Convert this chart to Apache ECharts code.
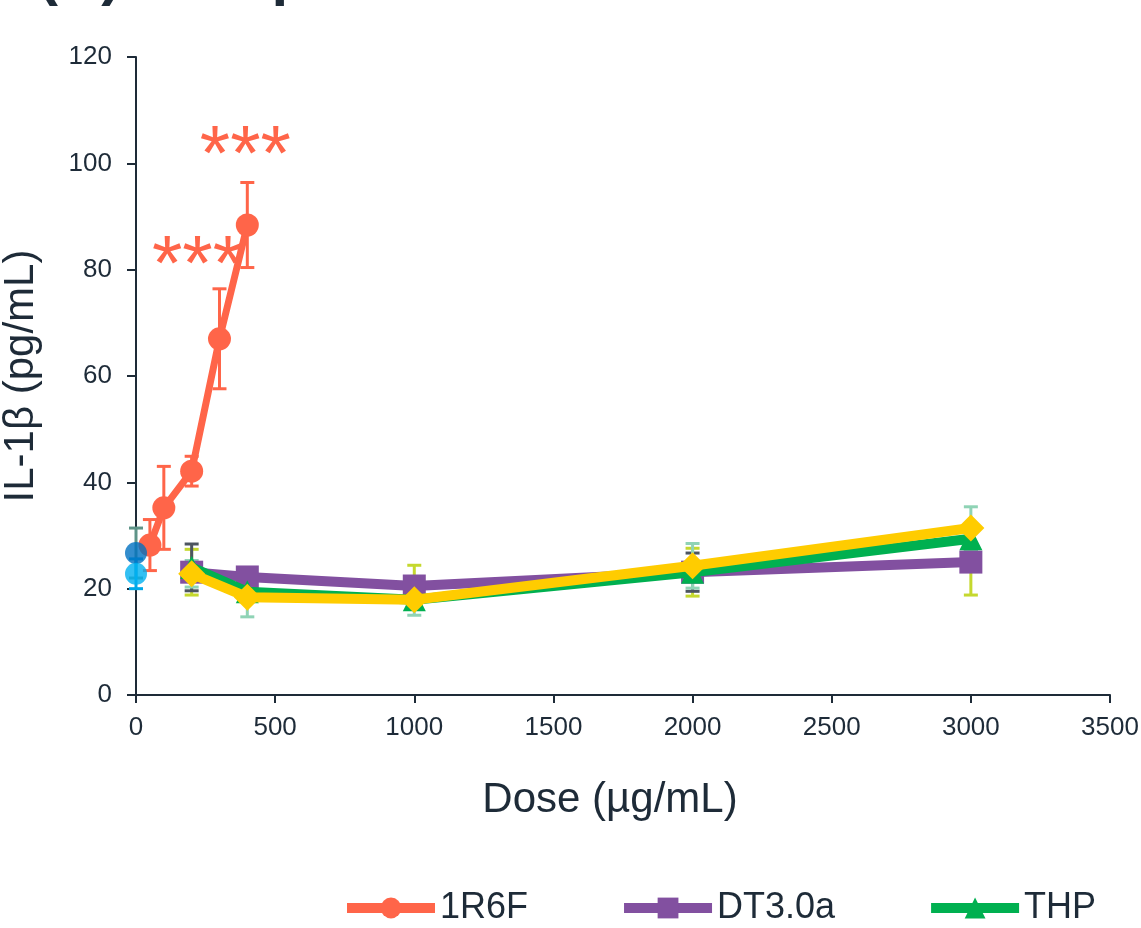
<!DOCTYPE html>
<html>
<head>
<meta charset="utf-8">
<script src="https://cdn.jsdelivr.net/npm/echarts@6/dist/echarts.min.js"></script>
<style>html,body{margin:0;padding:0;background:#fff;}#chart{width:1141px;height:928px;}</style>
</head>
<body>
<div id="chart"></div>
<script>
// ---- data ----
const xTicks = [0, 500, 1000, 1500, 2000, 2500, 3000, 3500];
const yTicks = [0, 20, 40, 60, 80, 100, 120];

const doses1R6F = [50, 100, 200, 300, 400];
const mean1R6F  = [28.2, 35.2, 42.1, 67.0, 88.4];
const err1R6F   = [4.8, 7.8, 2.8, 9.4, 8.0];

const dosesRRP  = [200, 400, 1000, 2000, 3000];
const meanDT3   = [23.1, 22.2, 20.5, 23.1, 25.0];
const errDT3    = [4.3, 1.5, 3.9, 4.5, 6.2];
const meanTHP   = [24.0, 19.4, 17.9, 23.1, 29.4];
const errTHP    = [4.4, 1.5, 1.5, 3.6, 2.0];
const meanY     = [22.8, 18.4, 17.9, 24.3, 31.4];
const errY      = [2.5, 3.7, 2.9, 4.2, 4.0];

const ctrlDose  = [0];
const ctrlA     = [26.7];
const ctrlAErr  = [4.7];
const ctrlB     = [22.8];
const ctrlBErr  = [2.8];

const sigLabels = {300: '***', 400: '***'};

// ---- build ----
const pairs = (xs, ys) => xs.map((x, i) => [x, ys[i]]);
const triples = (xs, ys, es) => xs.map((x, i) => [x, ys[i], es[i]]);

function errSeries(name, data, color, width) {
  return {
    type: 'custom', name: name, silent: true, z: 1,
    data: data,
    renderItem: function (params, api) {
      const x = api.value(0), y = api.value(1), e = api.value(2);
      const hi = api.coord([x, y + e]);
      const lo = api.coord([x, y - e]);
      const hw = 7;
      const st = {stroke: color, lineWidth: width};
      return {type: 'group', children: [
        {type: 'line', shape: {x1: hi[0], y1: hi[1], x2: lo[0], y2: lo[1]}, style: st},
        {type: 'line', shape: {x1: hi[0] - hw, y1: hi[1], x2: hi[0] + hw, y2: hi[1]}, style: st},
        {type: 'line', shape: {x1: lo[0] - hw, y1: lo[1], x2: lo[0] + hw, y2: lo[1]}, style: st}
      ]};
    }
  };
}

const red = '#FF6549', purple = '#8250A0', green = '#00B050', yellow = '#FFCC00';
const txt = '#1E2B38';

const data1R6F = doses1R6F.map((x, i) => {
  const item = {value: [x, mean1R6F[i]]};
  if (sigLabels[x]) {
    item.label = {show: true, formatter: sigLabels[x], position: 'top',
      offset: x === 400 ? [-2, -11] : [-22, -15],
      color: red, fontSize: 78, fontFamily: 'Liberation Sans', fontWeight: 'normal'};
  }
  return item;
});

const option = {
  animation: false,
  backgroundColor: '#fff',
  textStyle: {fontFamily: 'Liberation Sans'},
  graphic: [
    {type: 'text', left: 38, top: -53, z: 100, style: {text: '(B)', font: 'bold 60px Liberation Sans', fill: txt}},
    {type: 'text', left: 198, top: -53, z: 100, style: {text: 'Exp', font: 'bold 60px Liberation Sans', fill: txt}}
  ],
  grid: {left: 136, right: 31, top: 57, bottom: 233, containLabel: false, outerBoundsMode: 'none'},
  legend: {
    left: 337, top: 885, itemWidth: 88, itemHeight: 26, itemGap: 91,
    data: ['1R6F', 'DT3.0a', 'THP'],
    lineStyle: {width: 10},
    textStyle: {fontSize: 36, color: txt, fontFamily: 'Liberation Sans'}
  },
  xAxis: {
    type: 'value', min: xTicks[0], max: xTicks[xTicks.length - 1], interval: 500,
    name: 'Dose (µg/mL)', nameLocation: 'middle', nameGap: 84,
    nameTextStyle: {fontSize: 42, color: txt, padding: [0, 26, 0, 0]},
    axisLine: {lineStyle: {color: txt, width: 2}},
    axisTick: {show: true, length: 8, lineStyle: {color: txt, width: 2}},
    axisLabel: {fontSize: 26, color: txt, margin: 20, formatter: v => String(v)},
    splitLine: {show: false}
  },
  yAxis: {
    type: 'value', min: yTicks[0], max: yTicks[yTicks.length - 1], interval: 20,
    name: 'IL-1β (pg/mL)', nameLocation: 'middle', nameGap: 94,
    nameTextStyle: {fontSize: 42, color: txt},
    axisLine: {show: true, lineStyle: {color: txt, width: 2}},
    axisTick: {show: true, length: 9, lineStyle: {color: txt, width: 2}},
    axisLabel: {fontSize: 26, color: txt, margin: 24, formatter: v => String(v)},
    splitLine: {show: false}
  },
  series: [
    errSeries('e1', triples(doses1R6F, mean1R6F, err1R6F), red, 3),
    errSeries('e2', triples(dosesRRP, meanDT3, errDT3), '#C5D82E', 3),
    errSeries('e3', triples(dosesRRP, meanTHP, errTHP), '#4D5560', 3),
    errSeries('e4', triples(dosesRRP, meanY, errY), '#8FD3B5', 3),
    errSeries('e5', triples(ctrlDose, ctrlA, ctrlAErr), '#5E9488', 3),
    errSeries('e6', triples(ctrlDose, ctrlB, ctrlBErr), '#00A8E8', 3),
    {name: '1R6F', type: 'line', data: data1R6F, symbol: 'circle', symbolSize: 23,
      itemStyle: {color: red}, lineStyle: {color: red, width: 7}, z: 3},
    {name: 'DT3.0a', type: 'line', data: pairs(dosesRRP, meanDT3), symbol: 'rect', symbolSize: 23,
      itemStyle: {color: purple}, lineStyle: {color: purple, width: 10}, z: 3},
    {name: 'THP', type: 'line', data: pairs(dosesRRP, meanTHP), symbol: 'triangle', symbolSize: 23,
      itemStyle: {color: green}, lineStyle: {color: green, width: 10}, z: 4},
    {name: 'Other', type: 'line', data: pairs(dosesRRP, meanY), symbol: 'diamond', symbolSize: 27,
      itemStyle: {color: yellow}, lineStyle: {color: yellow, width: 10}, z: 5},
    {name: 'Control A', type: 'scatter', data: pairs(ctrlDose, ctrlA), symbol: 'circle', symbolSize: 22,
      itemStyle: {color: '#0070C0'}, z: 6},
    {name: 'Control B', type: 'scatter', data: pairs(ctrlDose, ctrlB), symbol: 'circle', symbolSize: 22,
      itemStyle: {color: '#00B0F0'}, z: 7}
  ]
};

const chart = echarts.init(document.getElementById('chart'), null, {renderer: 'canvas'});
chart.setOption(option);
</script>
</body>
</html>
